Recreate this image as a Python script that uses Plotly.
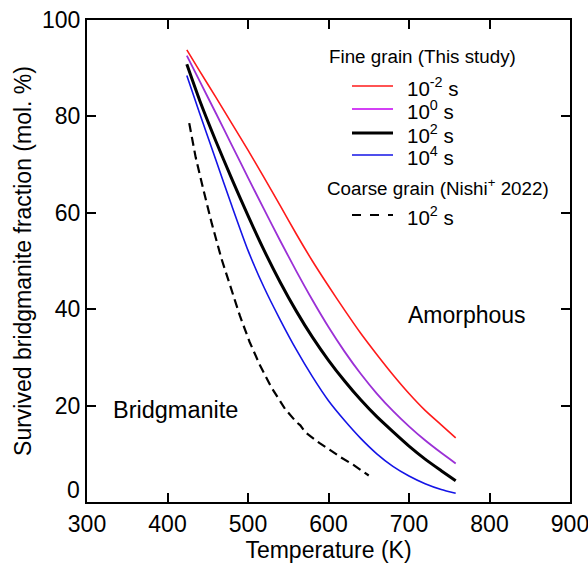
import plotly.graph_objects as go

# ---- data ----
T_fine = [424, 440, 460, 480, 500, 520, 540, 560, 580, 600, 620, 640, 660, 680, 700, 720, 740, 758]
fine_1e_2 = [93.8, 89.4, 84.0, 78.5, 73.0, 67.3, 61.5, 55.6, 50.0, 44.8, 39.8, 35.0, 30.6, 26.4, 22.5, 19.0, 16.0, 13.3]
fine_1e0 = [92.6, 87.3, 80.7, 74.0, 67.3, 60.7, 54.2, 47.9, 41.9, 36.3, 31.2, 26.6, 22.5, 18.9, 15.7, 12.8, 10.2, 8.0]
fine_1e2 = [90.8, 83.3, 74.9, 67.0, 59.4, 52.2, 45.6, 39.6, 34.2, 29.4, 25.1, 21.2, 17.7, 14.6, 11.6, 8.9, 6.5, 4.4]
fine_1e4 = [88.5, 80.6, 71.0, 61.4, 52.2, 44.5, 37.8, 31.6, 26.0, 21.0, 16.9, 13.2, 10.0, 7.4, 5.4, 3.8, 2.6, 1.8]

T_coarse = [427, 435, 445, 455, 467, 480, 490, 502, 515, 529, 546, 560, 565, 571, 589, 601, 615, 630, 642, 650]
coarse_1e2 = [78.6, 71.5, 64.5, 57.8, 50.5, 43.5, 38.6, 33.2, 28.3, 23.8, 19.3, 16.6, 15.9, 14.5, 12.2, 10.9, 9.3, 7.8, 6.5, 5.5]

x_ticks = [300, 400, 500, 600, 700, 800, 900]
y_ticks = [20, 40, 60, 80, 100]

FONT = "Liberation Sans, Arial, sans-serif"
RED = "#ff1a1a"
PURPLE = "#9b30d6"
BLACK = "#000000"
BLUE = "#1414e6"

fig = go.Figure()
series = [
    (fine_1e_2, RED, 1.6),
    (fine_1e0, PURPLE, 1.8),
    (fine_1e2, BLACK, 3.0),
    (fine_1e4, BLUE, 1.6),
]
for vals, col, w in series:
    fig.add_trace(go.Scatter(x=T_fine, y=vals, mode="lines",
                             line=dict(color=col, width=w, shape="spline", smoothing=0.6),
                             showlegend=False, hoverinfo="skip"))
fig.add_trace(go.Scatter(x=T_coarse, y=coarse_1e2, mode="lines",
                         line=dict(color=BLACK, width=2.2, dash="9px,5px"),
                         showlegend=False, hoverinfo="skip"))

# plot area geometry (pixels)
W, H = 588, 567
L, R, TOP, B = 87, 18, 20, 65
pw, ph = W - L - R, H - TOP - B

def px(xp):
    return (xp - L) / pw

def py(yp):
    return (H - B - yp) / ph

shapes = []
annotations = []

# manual legend
leg_rows = [
    ("10<sup>-2</sup> s", RED, 1.6, None, 86),
    ("10<sup>0</sup> s", "#c400f2", 1.6, None, 109),
    ("10<sup>2</sup> s", BLACK, 3.0, None, 133),
    ("10<sup>4</sup> s", BLUE, 1.6, None, 155),
    ("10<sup>2</sup> s", BLACK, 2.2, "dash", 215),
]
for txt, col, w, dash, yc in leg_rows:
    shapes.append(dict(type="line", xref="paper", yref="paper",
                       x0=px(352), x1=px(393), y0=py(yc), y1=py(yc),
                       line=dict(color=col, width=w, dash=dash or "solid")))
    annotations.append(dict(xref="paper", yref="paper", x=px(405), y=py(yc + 1),
                            xanchor="left", yanchor="middle", showarrow=False,
                            text=txt, font=dict(family=FONT, size=20.5, color="#000")))

annotations.append(dict(xref="paper", yref="paper", x=px(327), y=py(57),
                        xanchor="left", yanchor="middle", showarrow=False,
                        text="Fine grain (This study)", font=dict(family=FONT, size=18.8, color="#000")))
annotations.append(dict(xref="paper", yref="paper", x=px(325), y=py(187),
                        xanchor="left", yanchor="middle", showarrow=False,
                        text="Coarse grain (Nishi<sup>+</sup> 2022)", font=dict(family=FONT, size=18.8, color="#000")))

# region labels
annotations.append(dict(xref="x", yref="y", x=772, y=38.8, showarrow=False,
                        text="Amorphous", font=dict(family=FONT, size=23, color="#000")))
annotations.append(dict(xref="x", yref="y", x=410, y=19.1, showarrow=False,
                        text="Bridgmanite", font=dict(family=FONT, size=23.5, color="#000")))
# "0" tick label (drawn slightly above the axis, as in the reference)
annotations.append(dict(xref="paper", yref="y", x=0, y=2.5, xanchor="right", xshift=-5,
                        showarrow=False, text="0", font=dict(family=FONT, size=23, color="#000")))

axis_common = dict(showline=True, linecolor="#000", linewidth=2.2, mirror="ticks",
                   ticks="inside", ticklen=9, tickwidth=2, tickcolor="#000",
                   showgrid=False, zeroline=False, automargin=False,
                   ticklabeloverflow="allow",
                   tickfont=dict(family=FONT, size=23, color="#000"))

fig.update_layout(
    width=W, height=H,
    margin=dict(l=L, r=R, t=TOP, b=B),
    paper_bgcolor="white", plot_bgcolor="white",
    xaxis=dict(range=[300, 900], tickvals=x_ticks, ticktext=[str(v) for v in x_ticks],
               title=dict(text="Temperature (K)", font=dict(family=FONT, size=23, color="#000"), standoff=6),
               **axis_common),
    yaxis=dict(range=[0, 100], tickvals=y_ticks, ticktext=[str(v) for v in y_ticks],
               title=dict(text="Survived bridgmanite fraction (mol. %)", font=dict(family=FONT, size=23, color="#000"), standoff=4),
               **axis_common),
    shapes=shapes,
    annotations=annotations,
    showlegend=False,
)

fig.write_html("out.html", config={"displayModeBar": False},
               post_script="document.body.style.margin='0';document.body.style.overflow='hidden';")
